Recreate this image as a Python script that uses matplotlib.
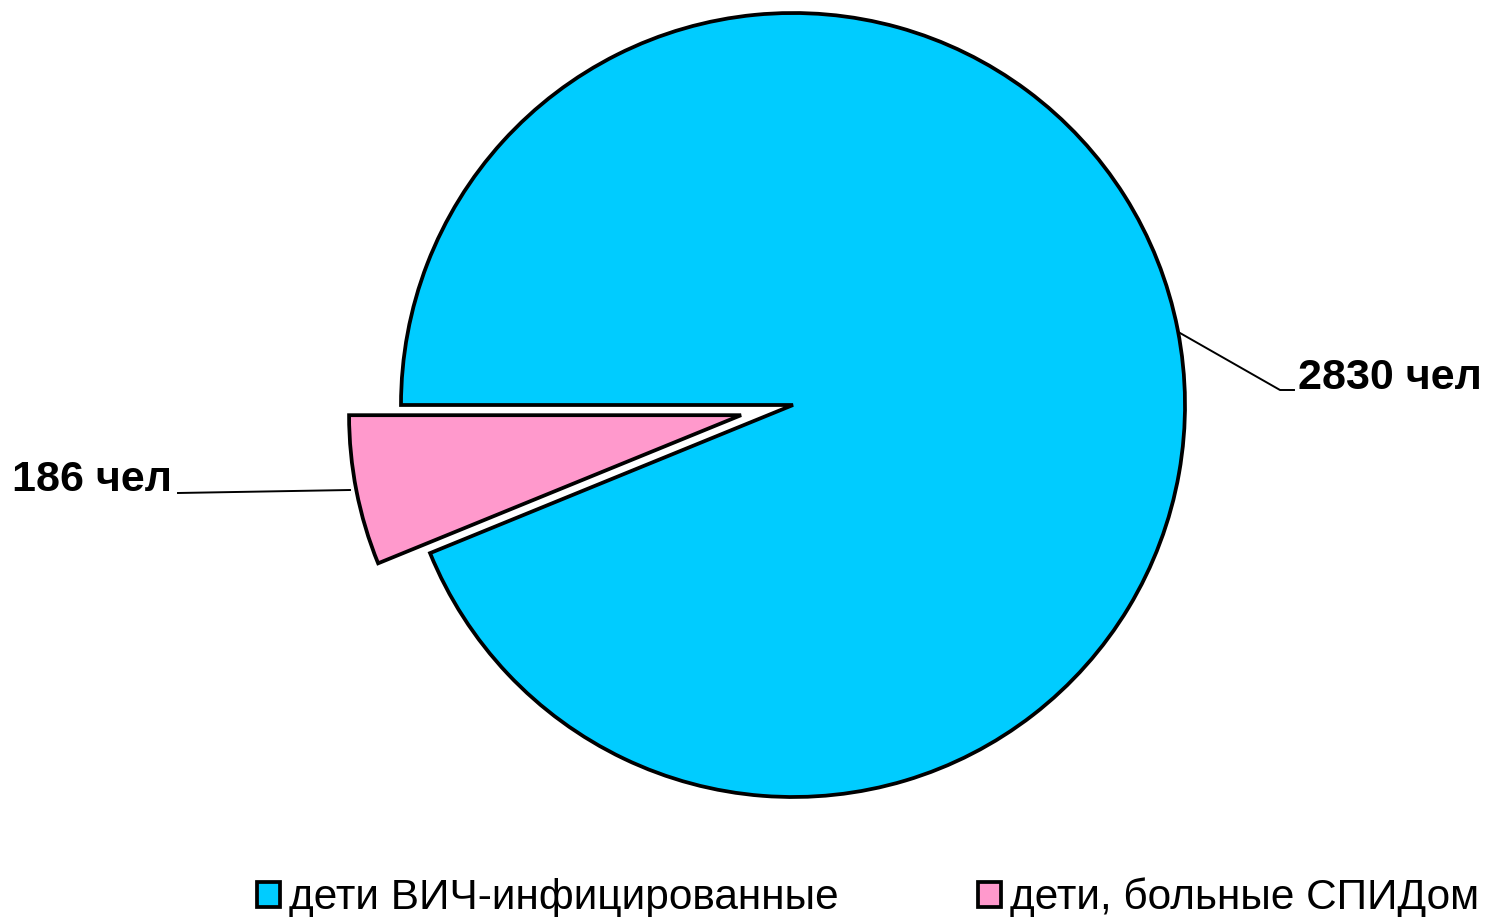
import matplotlib.pyplot as plt
from matplotlib.patches import Patch

labels = ["дети ВИЧ-инфицированные", "дети, больные СПИДом"]
values = [2830, 186]
value_texts = ["2830 чел", "186 чел"]
colors = ["#00CCFF", "#FF99CC"]

W, H = 1491, 917
cx, cy, R = 793, 405, 392


def px(x, y):
    # image pixel -> data coords (pie radius = 1)
    return (x - cx) / R, (cy - y) / R


fig = plt.figure(figsize=(W / 100, H / 100), dpi=100)
ax = fig.add_axes([0, 0, 1, 1])

wedges, _ = ax.pie(
    values,
    colors=colors,
    startangle=180,
    counterclock=False,
    explode=[0, 0.135],
    radius=1.0,
    wedgeprops=dict(edgecolor="black", linewidth=2.7),
)
ax.set_xlim(-cx / R, (W - cx) / R)
ax.set_ylim(-(H - cy) / R, cy / R)
ax.set_aspect("equal")
ax.axis("off")

font = dict(family=["Liberation Sans", "DejaVu Sans"], fontsize=31, fontweight="bold")

# leader lines
x0, y0 = px(1180, 333)
x1, y1 = px(1280, 390)
x2, y2 = px(1294, 390)
ax.plot([x0, x1, x2], [y0, y1, y2], color="black", lw=1.4)
ax.text(*px(1298, 378), value_texts[0], ha="left", va="center", **font)

x0, y0 = px(350, 490)
x1, y1 = px(178, 493)
ax.plot([x0, x1], [y0, y1], color="black", lw=1.4)
ax.text(*px(172, 480), value_texts[1], ha="right", va="center", **font)

handles = [Patch(facecolor=c, edgecolor="black", linewidth=2.7) for c in colors]
fig.legend(
    handles, labels,
    loc="center", bbox_to_anchor=(868 / W, 1 - 898 / H),
    ncol=2, frameon=False,
    prop=dict(family=["Liberation Sans", "DejaVu Sans"], size=30.5),
    handlelength=0.55, handleheight=0.55, handletextpad=0.2,
    columnspacing=3.3,
)

fig.savefig("out.png", dpi=100)
plt.close(fig)
